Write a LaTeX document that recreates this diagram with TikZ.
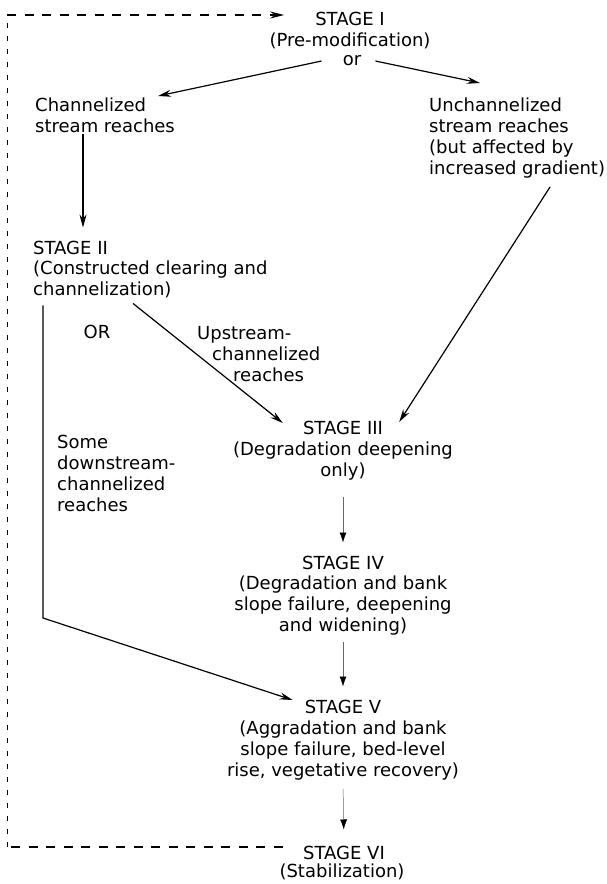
\documentclass[tikz,border=0pt]{standalone}
\usepackage{fontspec}
\setmainfont{DejaVu Sans}
\usetikzlibrary{arrows.meta}

\begin{document}
\begin{tikzpicture}[x=1pt, y=-1pt,
                chain/.style={line width=0.5pt, draw=black!60, -{Latex[length=10pt,width=7pt,color=black]}},
                fbdash/.style={line width=1.2pt, dash pattern=on 9pt off 8.5pt},
                fbthin/.style={line width=0.7pt, dash pattern=on 5pt off 8pt}]
                \useasboundingbox (0,0) rectangle (607,884);

                \begin{scope}[every node/.style={font=\fontsize{18}{21}\selectfont, inner sep=1pt}]
                        \node (s1) at (350,19) {STAGE I};
                        \node (d1) at (350,41) {(Pre-modification)};
                        \node (or1) at (352,61) {or};
                        \node [anchor=north west, align=left] (chan) at (34,97) {Channelized\\stream reaches};
                        \node [anchor=north west, align=left] (unchan) at (428,97) {Unchannelized\\stream reaches\\(but affected by\\increased gradient)};
                        \node [anchor=west] (s2) at (32,248) {STAGE II};
                        \node [anchor=north west, align=left] (d2) at (32,260) {(Constructed clearing and\\channelization)};
                        \node (or2) at (97,332) {OR};
                        \node [anchor=north west, align=left] (up) at (196,325) {Upstream-\\\hspace*{15pt}channelized\\\hspace*{36pt}reaches};
                        \node [anchor=north west, align=left] (down) at (56,434) {Some\\downstream-\\channelized\\reaches};
                        \node (s3) at (343,428) {STAGE III};
                        \node [anchor=north, align=center] (d3) at (343,441) {(Degradation deepening\\only)};
                        \node (s4) at (343,563) {STAGE IV};
                        \node [anchor=north, align=center] (d4) at (343,575) {(Degradation and bank\\slope failure, deepening\\and widening)};
                        \node (s5) at (343,707) {STAGE V};
                        \node [anchor=north, align=center] (d5) at (343,720) {(Aggradation and bank\\slope failure, bed-level\\rise, vegetative recovery)};
                        \node (s6) at (344,853) {STAGE VI};
                        \node [anchor=north] (d6) at (342,863) {(Stabilization)};
                \end{scope}

                \coordinate (kink) at (43,618);
                \coordinate (fb1) at (7,847);
                \coordinate (fb2) at (7,15);

                \begin{scope}[every path/.style={line width=1.2pt, ->, >={Stealth[length=13pt,width=7pt]}}]
                        \path ([xshift=-20pt]or1.west) edge ([shift={(-18pt,1pt)}]chan.north east);
                        \path ([xshift=13pt]or1.east) edge ([shift={(52pt,14pt)}]unchan.north west);
                        \path ([xshift=49pt]chan.south west) edge ([shift={(51pt,12.5pt)}]s2.north west);
                        \path ([shift={(101pt,-4pt)}]d2.south west) edge ([shift={(-19pt,5pt)}]s3.west);
                        \path ([shift={(33pt,-7pt)}]unchan.south) edge ([shift={(15pt,6pt)}]s3.east);
                        \draw [shorten <=6pt] (kink |- d2.south) -- (kink) -- ([shift={(-11pt,7pt)}]s5.west);
                \end{scope}

                \path (d3.south) edge [chain, shorten <=15pt, shorten >=12.5pt] (s4.north);
                \path (d4.south) edge [chain, shorten <=5pt, shorten >=12.5pt] (s5.north);
                \path (d5.south) edge [chain, shorten <=7pt, shorten >=15.5pt] (s6.north);

                \draw [fbdash] ([shift={(-19pt,6pt)}]s6.west) -- (fb1);
                \draw [fbthin] (fb1) -- (fb2);
                \draw [fbdash, -{Stealth[length=14pt,width=7pt]}] (fb2) -- ([shift={(-30pt,4pt)}]s1.west);
\end{tikzpicture}
\end{document}
